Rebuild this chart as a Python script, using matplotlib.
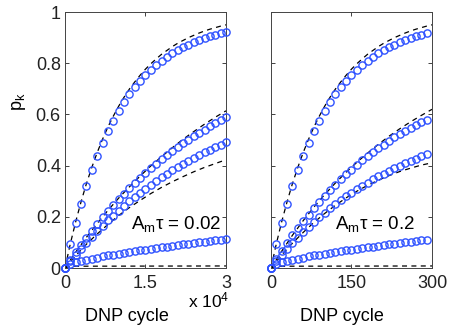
import numpy as np
import matplotlib.pyplot as plt

plt.rcParams['font.family'] = ['Liberation Sans', 'DejaVu Sans']
plt.rcParams['mathtext.fontset'] = 'custom'
plt.rcParams['mathtext.rm'] = 'Liberation Sans'
plt.rcParams['mathtext.it'] = 'Liberation Sans:italic'

# left panel: DNP cycles 0..30000, step 1000
x_left = np.arange(0, 30001, 1000)
left_a = [0, 0.095, 0.176, 0.251, 0.320, 0.382, 0.438, 0.488, 0.534, 0.576, 0.613,
          0.647, 0.678, 0.706, 0.731, 0.754, 0.774, 0.793, 0.810, 0.825, 0.839,
          0.851, 0.863, 0.873, 0.882, 0.890, 0.898, 0.905, 0.911, 0.917, 0.922]
left_b = [0, 0.031, 0.062, 0.091, 0.119, 0.146, 0.173, 0.198, 0.222, 0.246, 0.269,
          0.291, 0.312, 0.332, 0.352, 0.371, 0.389, 0.407, 0.424, 0.441, 0.456,
          0.472, 0.487, 0.501, 0.515, 0.528, 0.541, 0.553, 0.565, 0.577, 0.588]
left_c = [0, 0.026, 0.051, 0.076, 0.099, 0.122, 0.144, 0.165, 0.186, 0.205, 0.224,
          0.243, 0.260, 0.277, 0.294, 0.310, 0.325, 0.340, 0.354, 0.368, 0.381,
          0.394, 0.406, 0.418, 0.430, 0.441, 0.452, 0.462, 0.472, 0.481, 0.491]
left_d = [0, 0.014, 0.022, 0.028, 0.033, 0.037, 0.041, 0.045, 0.049, 0.052, 0.056,
          0.059, 0.063, 0.066, 0.069, 0.072, 0.075, 0.078, 0.081, 0.084, 0.087,
          0.090, 0.092, 0.095, 0.098, 0.100, 0.103, 0.106, 0.108, 0.111, 0.114]

# theory (dashed) curves, left panel
xd_left = np.arange(0, 30001, 1000)
left_a_th = [0, 0.095, 0.181, 0.259, 0.330, 0.393, 0.451, 0.503, 0.551, 0.593, 0.632,
             0.667, 0.699, 0.727, 0.753, 0.777, 0.798, 0.817, 0.835, 0.850, 0.865,
             0.878, 0.889, 0.900, 0.909, 0.918, 0.926, 0.933, 0.939, 0.945, 0.950]
xd2_left = np.arange(0, 30001, 2000)
left_b_th = [0, 0.062, 0.120, 0.174, 0.225, 0.273, 0.317, 0.359, 0.399, 0.435, 0.470,
             0.503, 0.533, 0.562, 0.589, 0.614]
left_c_th = [0, 0.048, 0.093, 0.133, 0.170, 0.205, 0.236, 0.264, 0.291, 0.315, 0.337,
             0.357, 0.376, 0.393, 0.408, 0.423]
xd3_left = [0, 1000, 2000, 30000]
left_d_th = [0, 0.006, 0.007, 0.008]

# right panel: DNP cycles 0..290, step 10
x_right = np.arange(0, 291, 10)
right_a = left_a[:30]
right_b = [0, 0.034, 0.066, 0.097, 0.127, 0.156, 0.183, 0.209, 0.234, 0.259, 0.282,
           0.304, 0.325, 0.346, 0.366, 0.384, 0.402, 0.420, 0.436, 0.452, 0.468,
           0.482, 0.496, 0.510, 0.523, 0.535, 0.547, 0.559, 0.570, 0.580]
right_c = [0, 0.026, 0.051, 0.074, 0.097, 0.119, 0.140, 0.160, 0.179, 0.198, 0.216,
           0.233, 0.249, 0.265, 0.280, 0.294, 0.308, 0.321, 0.334, 0.346, 0.358,
           0.369, 0.380, 0.390, 0.400, 0.409, 0.419, 0.427, 0.436, 0.444]
right_d = left_d[:29] + [0.111]

xd_right = np.arange(0, 301, 10)
right_a_th = left_a_th
xd2_right = np.arange(0, 301, 20)
right_b_th = [0, 0.066, 0.128, 0.185, 0.238, 0.287, 0.332, 0.374, 0.413, 0.449, 0.483,
              0.515, 0.544, 0.571, 0.596, 0.620]
right_c_th = [0, 0.051, 0.097, 0.139, 0.178, 0.213, 0.245, 0.274, 0.300, 0.323, 0.343,
              0.361, 0.377, 0.390, 0.402, 0.411]
xd3_right = [0, 10, 20, 300]
right_d_th = [0, 0.006, 0.007, 0.008]

blue = '#2f52ff'
fig = plt.figure(figsize=(4.5, 3.29), dpi=100)
ax1 = fig.add_axes([0.1444, 0.1854, 0.3578, 0.778])
ax2 = fig.add_axes([0.6022, 0.1854, 0.3578, 0.778])

panels = [
    (ax1, x_left, [left_a, left_b, left_c, left_d],
     [(xd_left, left_a_th), (xd2_left, left_b_th), (xd2_left, left_c_th), (xd3_left, left_d_th)]),
    (ax2, x_right, [right_a, right_b, right_c, right_d],
     [(xd_right, right_a_th), (xd2_right, right_b_th), (xd2_right, right_c_th), (xd3_right, right_d_th)]),
]
for ax, xs, series, theory in panels:
    for xt, yt in theory:
        ax.plot(xt, yt, '--', color='black', lw=0.9, dashes=(4, 3.5), zorder=2)
    for ys in series:
        ax.plot(xs, ys, 'o', mfc='none', mec=blue, ms=5.2, mew=1.0, clip_on=False, zorder=3)
    ax.set_ylim(0, 1)
    ax.set_yticks([0, 0.2, 0.4, 0.6, 0.8, 1])
    ax.tick_params(direction='in', length=3, width=0.6, labelsize=13, top=True, right=True,
                   colors='#222222')
    ax.tick_params(axis='y', pad=3)
    ax.tick_params(axis='x', pad=5)
    for s in ax.spines.values():
        s.set_linewidth(0.7)
        s.set_color('#444444')

ax1.set_xlim(0, 30000)
ax1.set_xticks([0, 15000, 30000])
ax1.set_xticklabels(['0', '1.5', '3'])
ax1.set_yticklabels(['0', '0.2', '0.4', '0.6', '0.8', '1'])
ax1.set_ylabel('p$_\\mathrm{k}$', fontsize=13)
ax1.yaxis.set_label_coords(-0.23, 0.65)
ax1.text(1.02, -0.128, 'x 10$^\\mathrm{4}$', transform=ax1.transAxes, ha='right', va='center', fontsize=12.5)
ax1.text(12300, 0.17, 'A$_\\mathrm{m}$τ = 0.02', fontsize=13.5, va='center')

ax2.set_xlim(0, 300)
ax2.set_xticks([0, 150, 300])
ax2.set_yticklabels([])
ax2.text(119, 0.17, 'A$_\\mathrm{m}$τ = 0.2', fontsize=13.5, va='center')

for ax, xc in [(ax1, 0.382), (ax2, 0.441)]:
    ax.set_xlabel('DNP cycle', fontsize=13)
    ax.xaxis.set_label_coords(xc, -0.155)

fig.savefig('out.png', dpi=100)
